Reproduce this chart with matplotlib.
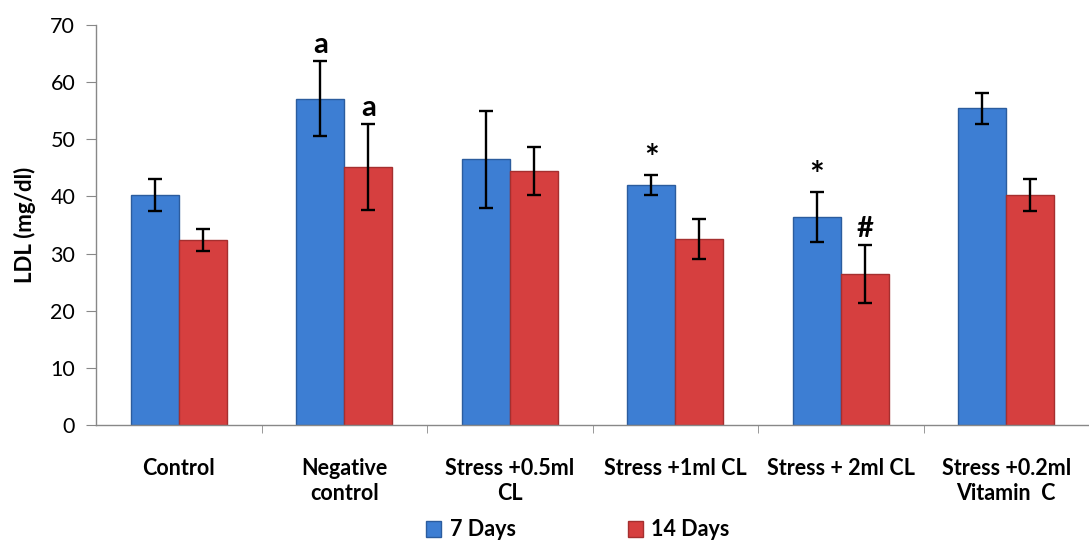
import matplotlib
matplotlib.use("Agg")
import matplotlib.pyplot as plt
import numpy as np
from matplotlib.patches import Patch

categories = ["Control", "Negative\ncontrol", "Stress +0.5ml\nCL", "Stress +1ml CL",
              "Stress + 2ml CL", "Stress +0.2ml\nVitamin  C"]
series_names = ["7 Days", "14 Days"]
days7 = [40.2, 57.1, 46.5, 42.0, 36.4, 55.4]
days7_err = [2.8, 6.6, 8.5, 1.7, 4.3, 2.7]
days14 = [32.4, 45.1, 44.4, 32.5, 26.4, 40.2]
days14_err = [1.9, 7.5, 4.2, 3.5, 5.1, 2.8]
marks7 = ["", "a", "", "*", "*", ""]
marks14 = ["", "a", "", "", "#", ""]
yticks = [0, 10, 20, 30, 40, 50, 60, 70]

plt.rcParams['font.family'] = ['Lato', 'DejaVu Sans']

W, H = 1089, 544
fig = plt.figure(figsize=(W / 100, H / 100), dpi=100)
ax = fig.add_axes([96 / W, 119 / H, (W - 96) / W, 400 / H])

x = np.arange(len(categories))
bw = 0.29
blue, blue_edge = "#3D7ED3", "#2B5C9E"
red, red_edge = "#D63F3F", "#A52F2F"

ax.bar(x - bw / 2, days7, bw, color=blue, edgecolor=blue_edge, linewidth=1.0, zorder=2)
ax.bar(x + bw / 2, days14, bw, color=red, edgecolor=red_edge, linewidth=1.0, zorder=2)
ax.errorbar(x - bw / 2, days7, yerr=days7_err, fmt="none", ecolor="black",
            elinewidth=1.7, capsize=5, capthick=1.7, zorder=3)
ax.errorbar(x + bw / 2, days14, yerr=days14_err, fmt="none", ecolor="black",
            elinewidth=1.7, capsize=5, capthick=1.7, zorder=3)

for i in range(len(categories)):
    if marks7[i]:
        star = marks7[i] == "*"
        ax.text(x[i] - bw / 2, days7[i] + days7_err[i] + (0.0 if star else 0.6), marks7[i],
                ha="center", va="bottom", fontsize=25 if star else 21, fontweight="bold")
    if marks14[i]:
        ax.text(x[i] + bw / 2, days14[i] + days14_err[i] + 0.6, marks14[i], ha="center", va="bottom",
                fontsize=21, fontweight="bold")

ax.set_xlim(-0.5, len(categories) - 0.5)
ax.set_ylim(0, 70)
ax.set_yticks(yticks)
ax.set_yticklabels([str(t) for t in yticks], fontsize=15.5)
ax.set_xticks(x)
ax.set_xticklabels(categories, fontsize=15.5, fontweight="bold", linespacing=1.2)
ax.tick_params(axis="x", length=0, pad=24)
ax.set_xticks(np.arange(-0.5, len(categories) - 0.5, 1)[1:], minor=True)
ax.tick_params(axis="x", which="minor", length=6, color="#888888", direction="out")
ax.tick_params(axis="y", length=7, color="#888888", direction="out", pad=8)

for s in ["top", "right"]:
    ax.spines[s].set_visible(False)
for s in ["left", "bottom"]:
    ax.spines[s].set_color("#888888")
    ax.spines[s].set_linewidth(1.0)

ax.set_ylabel("LDL (mg/dl)", fontsize=16, fontweight="bold", labelpad=10)

handles = [Patch(facecolor=blue, edgecolor=blue_edge), Patch(facecolor=red, edgecolor=red_edge)]
fig.legend(handles, series_names, loc="center", bbox_to_anchor=(578 / W, 1 - 530 / H), ncol=2,
           frameon=False, prop={"size": 15.5, "weight": "bold"}, handlelength=0.7, handleheight=0.7,
           columnspacing=5.2, handletextpad=0.4, borderpad=0.1)

fig.savefig("out.png", dpi=100)
